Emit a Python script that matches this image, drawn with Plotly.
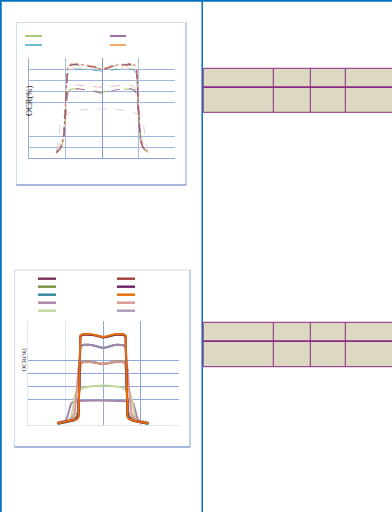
import plotly.graph_objects as go

W, H = 392, 512

# ---------------- Chart 1 data (dashed profiles) ----------------
X1 = [-12.5, -12, -11.5, -11, -10.5, -10, -9.5, -9, -8, -7, -6, -5, -4, -3, -2, -1, 0,
      1, 2, 3, 4, 5, 6, 7, 8, 9, 9.5, 10, 10.5, 11, 11.5, 12, 12.5]

LOW_BROAD = [6, 14, 28, 36, 38.5, 39.5, 40.3, 41, 42, 42.8, 43.3, 43.7, 44, 44.2, 44.4, 44.5, 44.5,
             44.5, 44.4, 44.2, 44, 43.7, 43.3, 42.8, 42, 41, 40.3, 39.5, 38.5, 36, 28, 14, 6]
MID_PINK = [7, 9, 12, 16, 24, 42, 60, 64, 65.5, 66, 66, 65.8, 65.5, 65, 64.5, 64, 63.8,
            64, 64.5, 65, 65.5, 65.8, 66, 66, 65.5, 64, 60, 42, 24, 16, 12, 9, 7]
MID_GREEN = [6, 7, 9, 12, 17, 38, 58, 61.5, 62.5, 62.5, 62.3, 62.2, 62, 61.8, 61, 60, 59.5,
             60, 61, 61.8, 62, 62.2, 62.3, 62.5, 62.5, 61.5, 58, 38, 17, 12, 9, 7, 6]
MID_PURPLE = [5, 6.5, 8.5, 11, 16, 36, 57, 61, 62.5, 62.8, 62.5, 62.2, 61.8, 61, 60, 59, 58.5,
              59, 60, 61, 61.8, 62.2, 62.5, 62.8, 62.5, 61, 57, 36, 16, 11, 8.5, 6.5, 5]
TEAL = [6, 7.5, 9, 12, 18, 44, 74, 79, 80.5, 80.5, 80.3, 80, 80, 79.8, 79.5, 79, 78.5,
        79, 79.5, 79.8, 80, 80, 80.3, 80.5, 80.5, 79, 74, 44, 18, 12, 9, 7.5, 6]
LIGHT_ORANGE = [5, 6.5, 8, 11.5, 18, 46, 76, 80.5, 81.5, 81.5, 81.3, 81, 81, 80.8, 80.5, 80.2, 80,
                80.2, 80.5, 80.8, 81, 81, 81.3, 81.5, 81.5, 80.5, 76, 46, 18, 11.5, 8, 6.5, 5]
TOP_GREEN = [6, 7, 9, 12, 18, 46, 78, 82.5, 84, 84, 83.5, 83.5, 83.2, 83, 82.5, 81.5, 81,
             81.5, 82.5, 83, 83.2, 83.5, 83.5, 84, 84, 82.5, 78, 46, 18, 12, 9, 7, 6]
TOP_RED = [5.5, 7, 9, 13, 20, 50, 80, 84, 85.5, 85.2, 84.5, 84, 83.8, 83.5, 82.8, 81, 80,
           81, 82.8, 83.5, 83.8, 84, 84.5, 85.2, 85.5, 84, 80, 50, 20, 13, 9, 7, 5.5]
TOP_ORANGE = [4.5, 6, 8.5, 12, 19, 48, 79, 83.5, 85, 84.8, 84.2, 84, 83.8, 83.4, 82.5, 81.5, 80.5,
              81.5, 82.5, 83.4, 83.8, 84, 84.2, 84.8, 85, 84, 79, 48, 19, 12, 8.5, 6, 4.5]
TOP_PURPLE = [5, 6.5, 8, 11, 17, 45, 78, 83, 84.5, 84.5, 84, 83.8, 83.5, 83, 82, 80.5, 79.5,
              80.5, 82, 83, 83.5, 83.8, 84, 84.5, 84.5, 83.5, 78, 45, 17, 11, 8, 6.5, 5]

C1_SERIES = [LOW_BROAD, MID_PINK, MID_GREEN, MID_PURPLE, TEAL, LIGHT_ORANGE,
             TOP_GREEN, TOP_RED, TOP_ORANGE, TOP_PURPLE]
C1_COLORS = ["#dccbd8", "#e6b9b8", "#9bbb59", "#a0609a", "#4bacc6", "#fac090",
             "#9bbb59", "#c0504d", "#f79646", "#8b3f8b"]
C1_DASH = ["dash", "dash", "longdash", "dash", "dash", "dot",
           "dash", "dot", "dash", "dash"]
C1_LEGEND_COLORS = [["#9bbb59", "#4bacc6"], ["#84508f", "#f79646"]]

X1_GRID = [-10, 10]
Y1_GRID = [10, 20, 50, 60, 70, 80]

# ---------------- Chart 2 data (solid profiles) ----------------
X2 = [-12, -11, -10, -9.5, -9, -8.5, -8, -7.5, -7, -6.5, -6, -5.5, -5, -4, -3, -2, -1, 0,
      1, 2, 3, 4, 5, 5.5, 6, 6.5, 7, 7.5, 8, 8.5, 9, 9.5, 10, 11, 12]

TEAL2 = [1, 1.5, 2, 2.3, 2.6, 3, 3.4, 4, 5, 9, 60.5, 61.5, 62, 62, 61.8, 61, 60, 59.5,
         60, 61, 61.8, 62, 62, 61.5, 60.5, 9, 5, 4, 3.4, 3, 2.6, 2.3, 2, 1.5, 1]
LILAC2 = [2, 2.5, 3.5, 6, 12, 16.5, 17.8, 18.3, 18.5, 18.6, 18.7, 18.8, 18.8, 18.9, 19, 19, 19, 19,
          19, 19, 19, 18.9, 18.8, 18.8, 18.7, 18.6, 18.5, 18.3, 17, 12, 6, 3.8, 3, 2.5, 2]
LGREEN2 = [2, 2.5, 3, 3.5, 4.2, 6, 12, 22, 25.5, 26.8, 27.8, 28.5, 29, 29.6, 30, 30.4, 30.6, 30.7,
           30.6, 30.4, 30, 29.6, 29, 28.5, 27.8, 26.8, 25.5, 22, 12, 6, 4.2, 3.5, 3, 2.5, 2]
BRICK2 = [1.6, 2, 2.5, 2.9, 3.2, 3.6, 4.2, 5, 6.5, 11, 48, 48.6, 48.8, 49, 48.8, 48.3, 47.6, 47.3,
          47.6, 48.3, 48.8, 49, 48.8, 48.6, 48, 11, 6.5, 5, 4.2, 3.6, 3.2, 2.9, 2.5, 2, 1.6]
OLIVE2 = [1.8, 2.2, 2.7, 3, 3.4, 3.8, 4.5, 5.5, 7, 12, 47.5, 48.5, 48.8, 49, 48.8, 48.2, 47.6, 47.3,
          47.6, 48.2, 48.8, 49, 48.8, 48.5, 47.5, 12, 7, 5.5, 4.5, 3.8, 3.4, 3, 2.7, 2.2, 1.8]
SALMON2 = [2, 2.5, 3, 3.5, 4, 5, 6.5, 9, 25, 44, 47.5, 48.3, 48.7, 49, 48.8, 48.2, 47.5, 47.2,
           47.5, 48.2, 48.8, 49, 48.7, 48.3, 47.5, 44, 25, 9, 6.5, 5, 4, 3.5, 3, 2.5, 2]
MAUVE2 = [1.8, 2.2, 2.8, 3, 3.3, 3.6, 4, 4.6, 5.5, 10, 60.5, 61.5, 62, 62, 61.8, 61, 60, 59.5,
          60, 61, 61.8, 62, 62, 61.5, 60.5, 10, 5.5, 4.6, 4, 3.6, 3.3, 3, 2.8, 2.2, 1.8]
MAROON2 = [1.5, 2, 2.5, 2.8, 3, 3.3, 3.6, 4.2, 5, 8, 68, 69.5, 69.8, 69.8, 69.5, 69, 68, 67.5,
           68, 69, 69.5, 69.8, 69.8, 69.5, 68, 8, 5, 4.2, 3.6, 3.3, 3, 2.8, 2.5, 2, 1.5]
DPURPLE2 = [1.5, 2, 2.4, 2.7, 3, 3.2, 3.5, 4, 4.8, 7, 68.5, 69.7, 70, 70, 69.7, 69.2, 68.2, 67.8,
            68.2, 69.2, 69.7, 70, 70, 69.7, 68.5, 7, 4.8, 4, 3.5, 3.2, 3, 2.7, 2.4, 2, 1.5]
ORANGE2 = [1.5, 2, 2.5, 2.8, 3, 3.2, 3.5, 4, 4.5, 6, 69, 70, 70.2, 70.2, 70, 69.5, 68.5, 68,
           68.5, 69.5, 70, 70.2, 70.2, 70, 69, 6, 4.5, 4, 3.5, 3.2, 3, 2.8, 2.5, 2, 1.5]

C2_SERIES = [TEAL2, LILAC2, LGREEN2, BRICK2, OLIVE2, SALMON2, MAUVE2, MAROON2, DPURPLE2, ORANGE2]
C2_COLORS = ["#31859c", "#a686a8", "#c3d69b", "#a0403c", "#77933c", "#d99795",
             "#a686a8", "#772c5c", "#6b2167", "#e46c0a"]
C2_LEGEND_COLORS = [["#772c5c", "#77933c", "#31859c", "#a686a8", "#c3d69b"],
                    ["#a0403c", "#6b2167", "#e46c0a", "#d99795", "#b29ab8"]]

X2_GRID = [0, 10]
X2_MINOR = [-10, 19.9]
Y2_GRID = [20, 30, 40, 50]
Y2_MINOR = [79.9]

# ---------------- page geometry helpers ----------------
def xp(x):
    return x / W


def yp(y):
    return 1 - y / H


fig = go.Figure()

for ys, col, dash in zip(C1_SERIES, C1_COLORS, C1_DASH):
    fig.add_trace(go.Scatter(x=X1, y=ys, mode="lines", xaxis="x", yaxis="y",
                             line=dict(color=col, width=1.0, dash=dash),
                             opacity=0.9, showlegend=False, hoverinfo="skip"))

for ys, col in zip(C2_SERIES, C2_COLORS):
    fig.add_trace(go.Scatter(x=X2, y=ys, mode="lines", xaxis="x2", yaxis="y2",
                             line=dict(color=col, width=2),
                             showlegend=False, hoverinfo="skip"))

shapes = []
BLUE = "#0070c0"
# page lines
shapes.append(dict(type="line", xref="paper", yref="paper", x0=0, x1=1, y0=yp(0.8), y1=yp(0.8),
                   line=dict(color=BLUE, width=1.8)))
shapes.append(dict(type="line", xref="paper", yref="paper", x0=xp(0.8), x1=xp(0.8), y0=0, y1=1,
                   line=dict(color=BLUE, width=1.8)))
shapes.append(dict(type="line", xref="paper", yref="paper", x0=xp(202.2), x1=xp(202.2), y0=0, y1=1,
                   line=dict(color=BLUE, width=1.5)))

# chart frames
for (l, t, r, b) in [(16.5, 22.5, 186, 185), (14.5, 270, 190, 447)]:
    shapes.append(dict(type="rect", xref="paper", yref="paper", x0=xp(l), x1=xp(r), y0=yp(b), y1=yp(t),
                       line=dict(color="#d3deee", width=1.2)))
    shapes.append(dict(type="line", xref="paper", yref="paper", x0=xp(r), x1=xp(r), y0=yp(b), y1=yp(t),
                       line=dict(color="#a9bce0", width=1.2)))
    shapes.append(dict(type="line", xref="paper", yref="paper", x0=xp(l), x1=xp(r), y0=yp(b), y1=yp(b),
                       line=dict(color="#8ea5d0", width=1.3)))

# legend samples chart 1
C1_LEG_X = [(25, 42), (110, 126)]
C1_LEG_Y = [36, 45]
for ci, (x0, x1) in enumerate(C1_LEG_X):
    for ri, y in enumerate(C1_LEG_Y):
        shapes.append(dict(type="line", xref="paper", yref="paper", x0=xp(x0), x1=xp(x1),
                           y0=yp(y), y1=yp(y), line=dict(color=C1_LEGEND_COLORS[ci][ri], width=1.6)))
# legend samples chart 2
C2_LEG_X = [(38, 56), (117, 135)]
C2_LEG_Y = [278.7, 286.7, 294.7, 302.7, 310.7]
for ci, (x0, x1) in enumerate(C2_LEG_X):
    for ri, y in enumerate(C2_LEG_Y):
        shapes.append(dict(type="line", xref="paper", yref="paper", x0=xp(x0), x1=xp(x1),
                           y0=yp(y), y1=yp(y), line=dict(color=C2_LEGEND_COLORS[ci][ri], width=2.4)))

# tables
TBL_FILL = "#ddd8c2"
TBL_LINE = "#8b2a82"
TABLE_COLS = [273.3, 310.3, 345.3]
for (top, mid0, mid1, bot) in [(68.3, 86.2, 87.9, 112.3), (322.3, 340.2, 341.9, 366.7)]:
    shapes.append(dict(type="rect", xref="paper", yref="paper", x0=xp(203.2), x1=xp(394),
                       y0=yp(bot), y1=yp(top), fillcolor=TBL_FILL, line=dict(color=TBL_LINE, width=1)))
    shapes.append(dict(type="rect", xref="paper", yref="paper", x0=xp(203.2), x1=xp(394),
                       y0=yp(mid1), y1=yp(mid0), fillcolor=TBL_LINE, line=dict(width=0)))
    for cx in TABLE_COLS:
        shapes.append(dict(type="line", xref="paper", yref="paper", x0=xp(cx), x1=xp(cx),
                           y0=yp(bot), y1=yp(top), line=dict(color=TBL_LINE, width=1)))

annotations = [
    dict(text="OCR(%)", xref="paper", yref="paper", x=xp(28.5), y=yp(101.5), showarrow=False,
         textangle=-90, font=dict(family="Liberation Serif", size=8.5, color="#222222"),
         xanchor="center", yanchor="middle"),
    dict(text="OCR(%)", xref="paper", yref="paper", x=xp(23.5), y=yp(360), showarrow=False,
         textangle=-90, font=dict(family="Liberation Serif", size=6.5, color="#333333"),
         xanchor="center", yanchor="middle"),
]

fig.update_layout(
    width=W, height=H, autosize=False,
    margin=dict(l=0, r=0, t=0, b=0),
    paper_bgcolor="white", plot_bgcolor="white",
    showlegend=False,
    shapes=shapes, annotations=annotations,
    xaxis=dict(domain=[xp(29), xp(175)], range=[-20, 20], tickvals=X1_GRID, showticklabels=False,
               ticks="", showgrid=True, gridcolor="#a8bde0", gridwidth=1,
               zeroline=True, zerolinecolor="#7f9dd0", zerolinewidth=1.3,
               showline=True, linecolor="#8ea5d0", linewidth=1.3, fixedrange=True),
    yaxis=dict(domain=[yp(158.3), yp(58.4)], range=[0, 90], tickvals=Y1_GRID, showticklabels=False,
               ticks="", showgrid=True, gridcolor="#9fb6de", gridwidth=1, zeroline=False,
               showline=True, linecolor="#9ab0da", linewidth=1.2, fixedrange=True),
    xaxis2=dict(domain=[xp(27.5), xp(178.5)], range=[-20, 20], anchor="y2", tickvals=X2_GRID,
                showticklabels=False, ticks="", showgrid=True, gridcolor="#8eaadb", gridwidth=1.1,
                minor=dict(tickvals=X2_MINOR, showgrid=True, gridcolor="#dde6f3", gridwidth=1, ticks=""),
                zeroline=False, showline=True, linecolor="#dde6f3", linewidth=1, fixedrange=True),
    yaxis2=dict(domain=[yp(425.3), yp(321.3)], range=[0, 80], anchor="x2", tickvals=Y2_GRID,
                showticklabels=False, ticks="", showgrid=True, gridcolor="#8eaadb", gridwidth=1.2,
                minor=dict(tickvals=Y2_MINOR, showgrid=True, gridcolor="#dde6f3", gridwidth=1, ticks=""),
                zeroline=False, showline=True, linecolor="#dde6f3", linewidth=1, fixedrange=True),
)

fig.write_html(
    "out.html",
    config={"displayModeBar": False},
    post_script="document.body.style.margin='0px';document.body.style.padding='0px';"
                "document.documentElement.style.overflow='hidden';",
)
